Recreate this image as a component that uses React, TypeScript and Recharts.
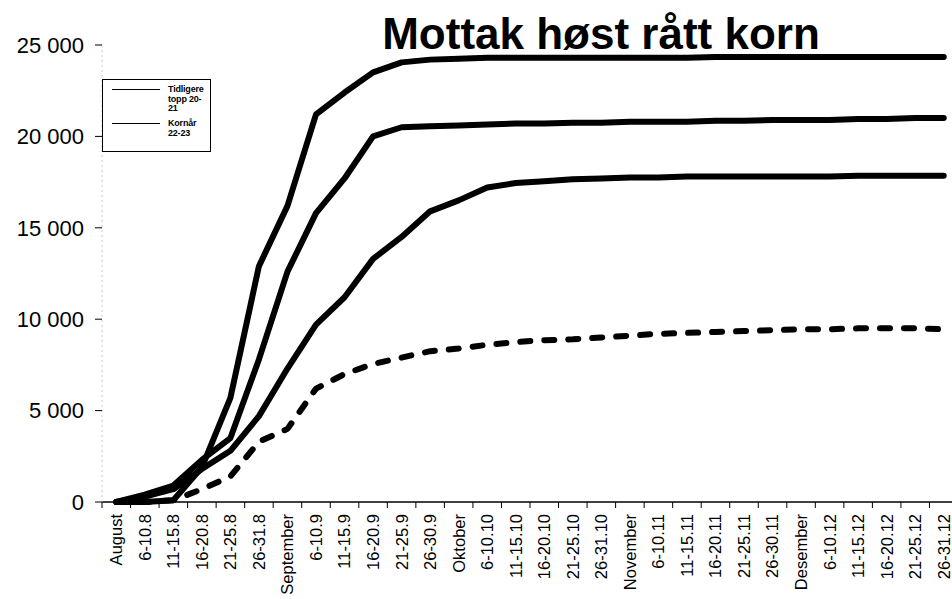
import { LineChart, Line, XAxis, YAxis } from 'recharts';

// kategorier (femdagersperioder)
const categories = [
  'August', '6-10.8', '11-15.8', '16-20.8', '21-25.8', '26-31.8',
  'September', '6-10.9', '11-15.9', '16-20.9', '21-25.9', '26-30.9',
  'Oktober', '6-10.10', '11-15.10', '16-20.10', '21-25.10', '26-31.10',
  'November', '6-10.11', '11-15.11', '16-20.11', '21-25.11', '26-30.11',
  'Desember', '6-10.12', '11-15.12', '16-20.12', '21-25.12', '26-31.12',
];

const tidligereTopp = [
  0, 0, 100, 1900, 5700, 12900, 16200, 21200, 22400, 23500, 24050, 24200,
  24250, 24300, 24300, 24300, 24300, 24300, 24300, 24300, 24300, 24350,
  24350, 24350, 24350, 24350, 24350, 24350, 24350, 24350,
];
const kornaar2223 = [
  0, 400, 900, 2300, 3500, 7800, 12600, 15800, 17700, 20000, 20500, 20550,
  20600, 20650, 20700, 20700, 20750, 20750, 20800, 20800, 20800, 20850,
  20850, 20900, 20900, 20900, 20950, 20950, 21000, 21000,
];
const kurve3 = [
  0, 300, 700, 1800, 2800, 4700, 7300, 9700, 11200, 13300, 14500, 15900,
  16500, 17200, 17450, 17550, 17650, 17700, 17750, 17750, 17800, 17800,
  17800, 17800, 17800, 17800, 17850, 17850, 17850, 17850,
];
const kurve4 = [
  0, 0, 100, 700, 1400, 3300, 4000, 6200, 7000, 7550, 7900, 8250,
  8400, 8600, 8750, 8850, 8900, 9000, 9100, 9200, 9250, 9300,
  9350, 9400, 9450, 9450, 9500, 9500, 9500, 9450,
];

const yTicks = [0, 5000, 10000, 15000, 20000, 25000];
const legendItems = [
  { label: ['Tidligere', 'topp 20-', '21'] },
  { label: ['Kornår', '22-23'] },
];

const data = categories.map((c, i) => ({
  periode: c,
  tidligereTopp: tidligereTopp[i],
  kornaar2223: kornaar2223[i],
  kurve3: kurve3[i],
  kurve4: kurve4[i],
}));

const FONT = '"Liberation Sans", Arial, sans-serif';
const W = 960;
const H = 599;
const LEFT = 102;
const RIGHT = 2;
const BAND = (W - LEFT - RIGHT) / categories.length;

const fmt = (v: number) => String(v).replace(/\B(?=(\d{3})+(?!\d))/g, ' ');

function CategoryTick(props: any) {
  const { x, y, payload, index } = props;
  const top = y + 12;
  return (
    <g>
      <line x1={x - BAND / 2} x2={x - BAND / 2} y1={y} y2={y + 6} stroke="#000" />
      {index === categories.length - 1 && (
        <line x1={x + BAND / 2} x2={x + BAND / 2} y1={y} y2={y + 6} stroke="#000" />
      )}
      <text
        x={x}
        y={top}
        dy="0.36em"
        textAnchor="end"
        transform={`rotate(-90 ${x} ${top})`}
        fontFamily={FONT}
        fontSize={16.5}
        fill="#000"
      >
        {payload.value}
      </text>
    </g>
  );
}

export default function App() {
  return (
    <div style={{ position: 'absolute', left: 0, top: 0, width: 952, height: 599, overflow: 'hidden', background: '#fff' }}>
      <LineChart width={W} height={H} data={data} margin={{ top: 45, right: RIGHT, left: 0, bottom: 0 }}>
        <XAxis
          dataKey="periode"
          interval={0}
          height={H - 502}
          padding={{ left: BAND / 2, right: BAND / 2 }}
          tickLine={false}
          tickSize={0}
          tickMargin={0}
          axisLine={{ stroke: '#000', strokeWidth: 1.5 }}
          tick={<CategoryTick />}
        />
        <YAxis
          width={LEFT}
          domain={[0, 25000]}
          ticks={yTicks}
          tickFormatter={fmt}
          tickSize={7}
          tickMargin={11}
          tickLine={{ stroke: '#000' }}
          axisLine={{ stroke: '#ccc', strokeDasharray: '2 3' }}
          tick={{ fontFamily: FONT, fontSize: 22, fill: '#000' }}
        />
        <Line dataKey="tidligereTopp" stroke="#000" strokeWidth={6} dot={false} strokeLinejoin="round" strokeLinecap="round" isAnimationActive={false} />
        <Line dataKey="kornaar2223" stroke="#000" strokeWidth={6} dot={false} strokeLinejoin="round" strokeLinecap="round" isAnimationActive={false} />
        <Line dataKey="kurve3" stroke="#000" strokeWidth={6} dot={false} strokeLinejoin="round" strokeLinecap="round" isAnimationActive={false} />
        <Line dataKey="kurve4" stroke="#000" strokeWidth={6} strokeDasharray="10 14" dot={false} strokeLinejoin="round" strokeLinecap="round" isAnimationActive={false} />
      </LineChart>

      <div
        style={{
          position: 'absolute', left: 301, top: 12, width: 600, textAlign: 'center',
          fontFamily: FONT, fontWeight: 'bold', fontSize: 44, lineHeight: '44px', color: '#000',
        }}
      >
        Mottak høst rått korn
      </div>

      <div
        style={{
          position: 'absolute', left: 102, top: 79, width: 109, height: 73, boxSizing: 'border-box',
          border: '1px solid #000', background: '#fff', overflow: 'hidden',
          fontFamily: FONT, fontWeight: 'bold', fontSize: 9, lineHeight: '9.5px', color: '#000',
        }}
      >
        {legendItems.map((item, i) => (
          <div key={i} style={{ display: 'flex', alignItems: 'flex-start', marginTop: i === 0 ? 5 : 5.5 }}>
            <div style={{ width: 48, height: 0, borderTop: '1.5px solid #000', marginLeft: 9, marginTop: 4, marginRight: 8 }} />
            <div style={{ whiteSpace: 'nowrap', letterSpacing: -0.2 }}>
              {item.label.map((l) => (
                <div key={l}>{l}</div>
              ))}
            </div>
          </div>
        ))}
      </div>
    </div>
  );
}
